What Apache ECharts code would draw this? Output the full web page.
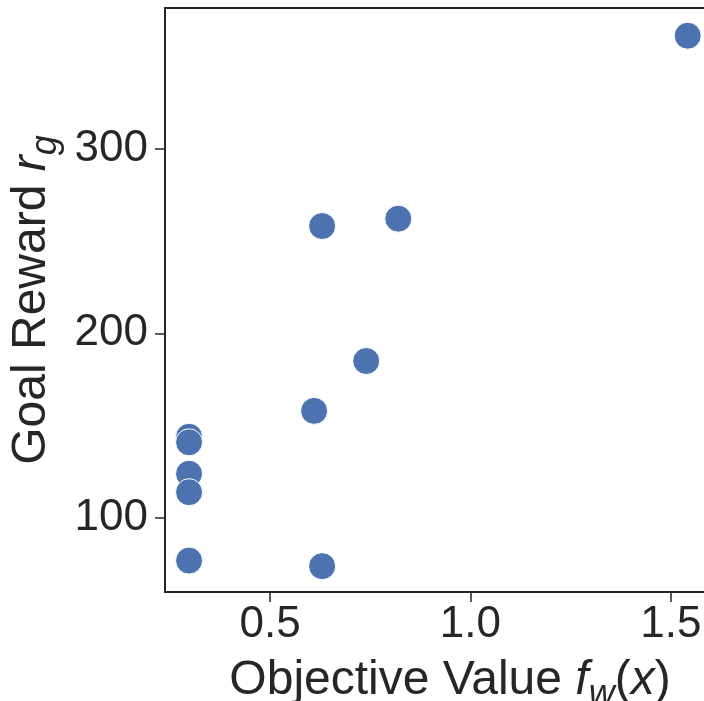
<!DOCTYPE html>
<html>
<head>
<meta charset="utf-8">
<script src="https://cdn.jsdelivr.net/npm/echarts@6/dist/echarts.min.js"></script>
<style>
  html, body { margin: 0; padding: 0; background: #fff; }
  #chart { width: 704px; height: 701px; }
</style>
</head>
<body>
<div id="chart"></div>
<script>
  // objective value f_w(x) and goal reward r_g, one entry per point
  const objectiveValues = [0.298, 0.298, 0.298, 0.298, 0.298, 0.61, 0.63, 0.63, 0.74, 0.82, 1.542];
  const goalRewards = [144, 141, 124, 114, 77, 158, 74, 258, 185, 262, 361];
  const xTicks = [0.5, 1.0, 1.5];
  const yTicks = [100, 200, 300];

  const ink = '#262626';
  const font = '"Liberation Sans", Arial, sans-serif';

  var chartDom = document.getElementById('chart');
  var myChart = echarts.init(chartDom);

  const points = objectiveValues.map((v, i) => [v, goalRewards[i]]);

  const nameRich = {
    n: { fontSize: 48, fontFamily: font, color: ink },
    i: { fontSize: 48, fontFamily: font, color: ink, fontStyle: 'italic' },
    sub: { fontSize: 36, fontFamily: font, color: ink, fontStyle: 'italic', padding: [28, 0, 0, 0] }
  };

  let option = {
    animation: false,
    grid: {
      left: 165,
      top: 8,
      bottom: 109,
      right: -31,
      outerBoundsMode: 'none',
      containLabel: false
    },
    xAxis: [
      {
        type: 'value',
        min: 0.238,
        max: 1.66,
        splitLine: { show: false },
        axisLine: { show: true, onZero: false, lineStyle: { color: ink, width: 2 } },
        axisTick: { show: true, length: 10, customValues: xTicks, lineStyle: { color: ink, width: 1.5 } },
        axisLabel: {
          customValues: xTicks,
          formatter: v => v.toFixed(1),
          fontSize: 44,
          fontFamily: font,
          color: ink,
          margin: 11
        },
        name: '{n|Objective Value }{i|f}{sub|w}{n|(}{i|x}{n|)}',
        nameLocation: 'middle',
        nameGap: 57,
        nameTextStyle: { rich: nameRich }
      },
      {
        type: 'value',
        position: 'top',
        min: 0.238,
        max: 1.66,
        splitLine: { show: false },
        axisLine: { show: true, onZero: false, lineStyle: { color: ink, width: 2 } },
        axisTick: { show: false },
        axisLabel: { show: false }
      }
    ],
    yAxis: {
      type: 'value',
      min: 60,
      max: 376,
      splitLine: { show: false },
      axisLine: { show: true, onZero: false, lineStyle: { color: ink, width: 2 } },
      axisTick: { show: true, length: 10, customValues: yTicks, lineStyle: { color: ink, width: 1.5 } },
      axisLabel: {
        customValues: yTicks,
        fontSize: 44,
        fontFamily: font,
        color: ink,
        margin: 17
      },
      name: '{n|Goal Reward }{i|r}{sub|g}',
      nameLocation: 'middle',
      nameRotate: 90,
      nameGap: 96,
      nameTextStyle: { rich: nameRich }
    },
    series: [
      {
        type: 'scatter',
        data: points,
        symbolSize: 27,
        itemStyle: {
          color: '#4C72B0',
          opacity: 1,
          borderColor: '#fff',
          borderWidth: 1
        }
      }
    ]
  };

  myChart.setOption(option);
</script>
</body>
</html>
